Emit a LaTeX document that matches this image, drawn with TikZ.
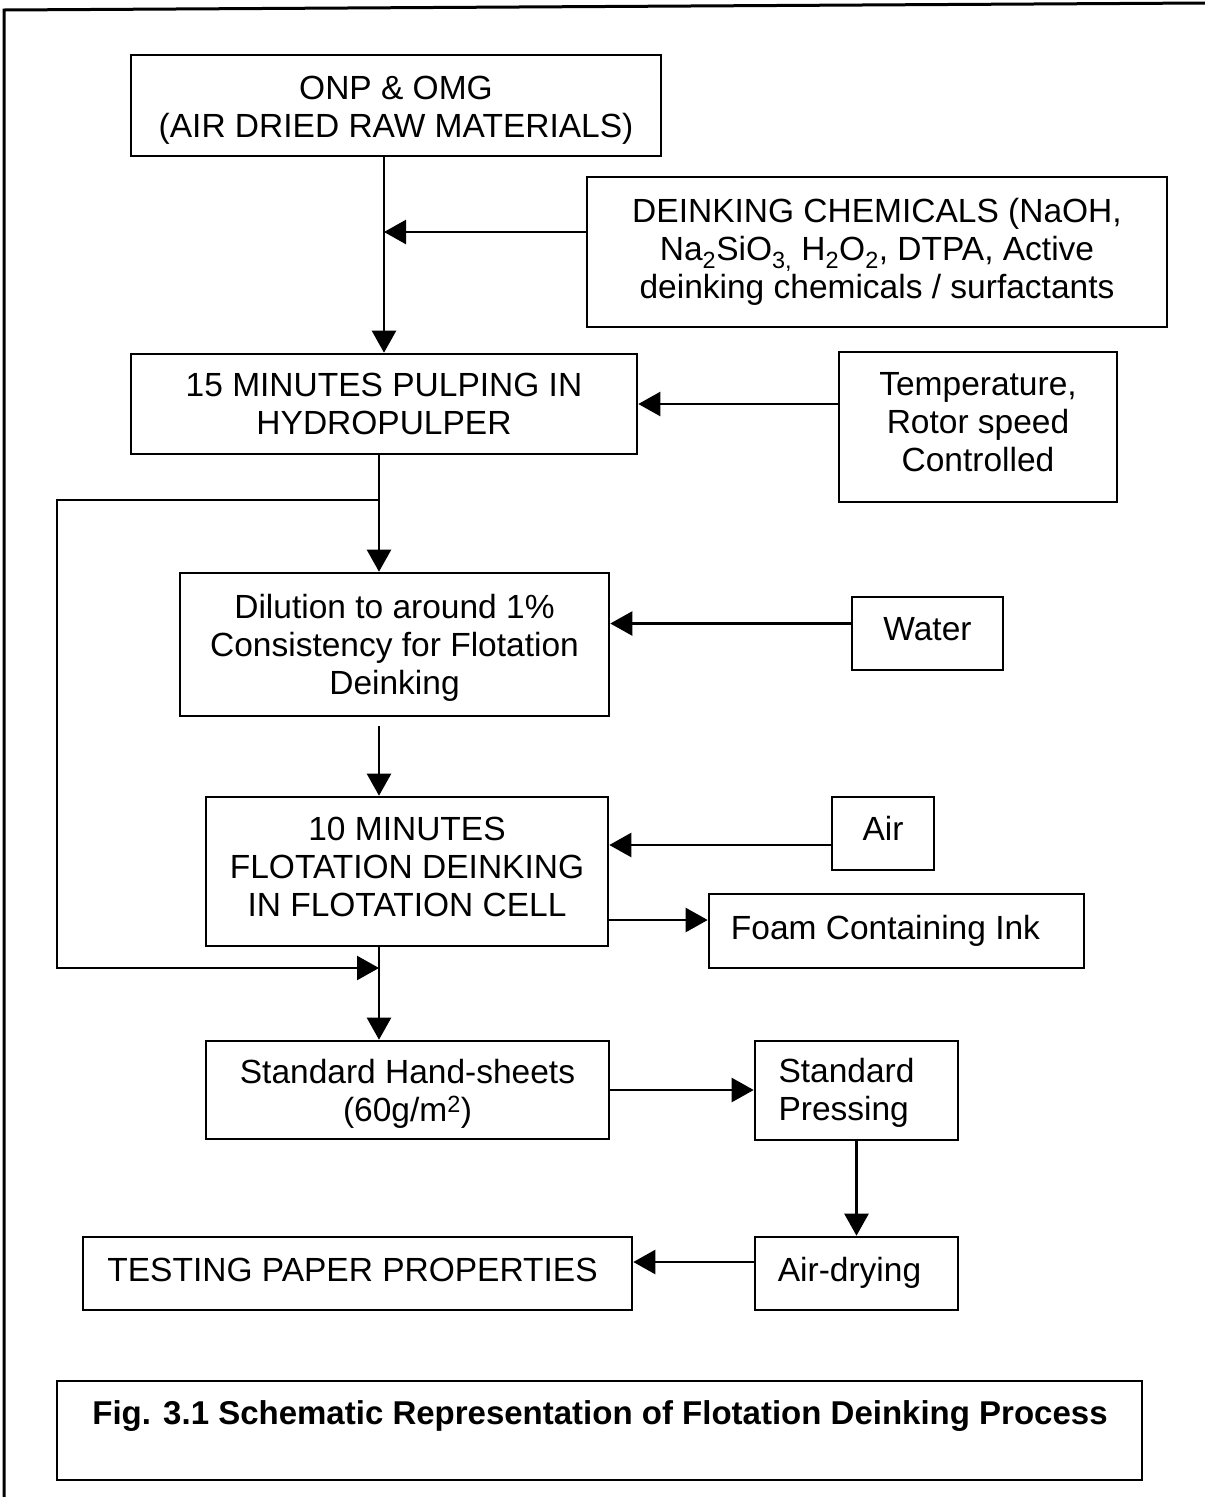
\documentclass[tikz,border=0pt]{standalone}
\usepackage{fontspec}
\setmainfont{Liberation Sans}
\usetikzlibrary{arrows.meta}
\begin{document}
\begin{tikzpicture}[x=1pt,y=-1pt,
  box/.style={draw,line width=2.6pt,rectangle,align=center,inner sep=0pt,
    font=\fontsize{33.5}{38}\selectfont},
  arr/.style={line width=2.4pt,-{Triangle[length=22pt,width=24pt]}}]
\useasboundingbox (0,0) rectangle (1205,1497);
\draw[line width=3pt] (4,1497) -- (4,10) -- (1205,3);
% nodes
\node[box,minimum width=530pt,minimum height=101pt] (onp) at (396,105.5) {\parbox{520pt}{\vspace*{10pt}\centering ONP \& OMG\\(AIR DRIED RAW MATERIALS)}};
\node[box,minimum width=580pt,minimum height=150pt] (chem) at (877,252) {DEINKING CHEMICALS (NaOH,\\Na\textsubscript{2}SiO\textsubscript{3,} H\textsubscript{2}O\textsubscript{2}, DTPA, Active\\deinking chemicals / surfactants};
\node[box,minimum width=506pt,minimum height=100pt] (pulp) at (384,404) {15 MINUTES PULPING IN\\HYDROPULPER};
\node[box,minimum width=278pt,minimum height=150pt] (temp) at (978,427) {\parbox{270pt}{\centering Temperature,\\Rotor speed\\Controlled\par\vspace{10pt}}};
\node[box,minimum width=429pt,minimum height=143pt] (dil) at (394.5,644.5) {\parbox{420pt}{\vspace*{6pt}\centering Dilution to around 1\%\\Consistency for Flotation\\Deinking}};
\node[box,minimum width=151pt,minimum height=73pt] (water) at (927.5,633.5) {\raisebox{9pt}{Water}};
\node[box,minimum width=402pt,minimum height=149pt] (flot) at (407,871.5) {\parbox{395pt}{\centering 10 MINUTES\\FLOTATION DEINKING\\IN FLOTATION CELL\par\vspace{10pt}}};
\node[box,minimum width=102pt,minimum height=73pt] (air) at (883,833.5) {\raisebox{10pt}{Air}};
\node[box,minimum width=375pt,minimum height=74pt] (foam) at (896.5,931) {\hspace*{-22pt}\raisebox{6pt}{Foam Containing Ink}};
\node[box,minimum width=403pt,minimum height=98pt] (hand) at (407.5,1090) {\parbox{395pt}{\vspace*{8pt}\centering Standard Hand-sheets\\(60g/m\textsuperscript{2})}};
\node[box,minimum width=203pt,minimum height=99pt] (press) at (856.5,1090.5) {\hspace*{-6pt}\parbox{150pt}{\vspace*{4pt}Standard\\Pressing}};
\node[box,minimum width=203pt,minimum height=73pt] (dry) at (856.5,1273.5) {\hspace*{-14pt}\raisebox{8pt}{Air-drying}};
\node[box,minimum width=549pt,minimum height=73pt] (test) at (357.5,1273.5) {\hspace*{-10pt}\raisebox{8pt}{TESTING PAPER PROPERTIES}};
\node[box,minimum width=1085pt,minimum height=99pt] (cap) at (599.5,1430.5) {};
\node[font=\fontsize{33}{38}\bfseries\selectfont,inner sep=0pt] (captxt) at (600,1416) {Fig. 3.1 Schematic Representation of Flotation Deinking Process};
% coordinates
\coordinate (j1) at (379,500);
\coordinate (b1) at (57,500);
\coordinate (b2) at (57,968);
\coordinate (j2) at (379,968);
\coordinate (c1) at ([yshift=20pt]chem.west);
\coordinate (w1) at ([yshift=10pt]water.west);
\coordinate (d1) at (379,726);
\coordinate (a1) at ([yshift=-11.5pt]air.west);
\coordinate (f1) at ([yshift=11pt]foam.west);
\coordinate (t1) at ([yshift=11.5pt]dry.west);
% connectors
\draw[arr] (onp.south -| pulp.north) -- (pulp.north);
\draw[arr] (c1) -- (c1 -| pulp.north);
\draw[arr] (temp.west |- pulp.east) -- (pulp.east);
\draw[arr] (pulp.south -| j1) -- (dil.north -| j1);
\draw[arr] (j1) -- (b1) -- (b2) -- (j2);
\draw[arr] (w1) -- (w1 -| dil.east);
\draw[arr] (d1) -- (flot.north -| d1);
\draw[arr] (a1) -- (a1 -| flot.east);
\draw[arr] (f1 -| flot.east) -- (f1);
\draw[arr] (flot.south -| j1) -- (hand.north -| j1);
\draw[arr] (hand.east) -- (hand.east -| press.west);
\draw[arr] (press.south) -- (dry.north);
\draw[arr] (t1) -- (t1 -| test.east);
\end{tikzpicture}
\end{document}
